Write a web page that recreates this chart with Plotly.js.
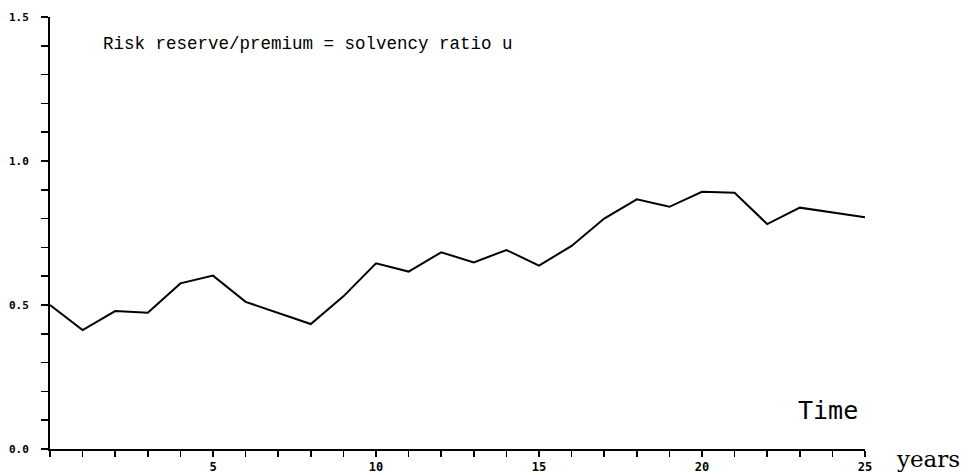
<!DOCTYPE html>
<html>
<head>
<meta charset="utf-8">
<script src="https://cdn.plot.ly/plotly-3.0.1.min.js"></script>
<style>html,body{margin:0;padding:0;background:#fff;}#chart{width:975px;height:475px;}</style>
</head>
<body>
<div id="chart"></div>
<script>
var years = [0,1,2,3,4,5,6,7,8,9,10,11,12,13,14,15,16,17,18,19,20,21,22,23,24,25];
var solvencyRatio = [0.50,0.413,0.479,0.473,0.575,0.602,0.511,0.472,0.434,0.53,0.645,0.616,0.683,0.648,0.691,0.637,0.705,0.80,0.867,0.841,0.893,0.890,0.781,0.838,0.822,0.805];
var xTickVals = [0,1,2,3,4,5,6,7,8,9,10,11,12,13,14,15,16,17,18,19,20,21,22,23,24,25];
var xTickText = ["","","","","","5","","","","","10","","","","","15","","","","","20","","","","","25"];
var yTickVals = [0,0.1,0.2,0.3,0.4,0.5,0.6,0.7,0.8,0.9,1.0,1.1,1.2,1.3,1.4,1.5];
var yTickText = ["0.0","","","","","0.5","","","","","1.0","","","","","1.5"];
var titleText = "Risk reserve/premium = solvency ratio u";
var xLabel = "Time";
var unitLabel = "years";

var trace = {
  x: years, y: solvencyRatio, type: 'scatter', mode: 'lines',
  line: {color: '#000', width: 2}, hoverinfo: 'skip'
};
var layout = {
  width: 975, height: 475,
  margin: {l: 50, r: 110, t: 17, b: 26},
  paper_bgcolor: '#fff', plot_bgcolor: '#fff',
  showlegend: false,
  xaxis: {
    range: [0, 25], showgrid: false, zeroline: false,
    showline: true, linecolor: '#000', linewidth: 2,
    tickmode: 'array', tickvals: xTickVals, ticktext: xTickText,
    ticks: 'outside', ticklen: 6, tickwidth: 1.5, tickcolor: '#000',
    tickfont: {family: 'DejaVu Sans Mono', size: 12, color: '#000', weight: 'bold'},
    ticklabelstandoff: 0
  },
  yaxis: {
    range: [0, 1.5], showgrid: false, zeroline: false,
    showline: true, linecolor: '#000', linewidth: 2,
    tickmode: 'array', tickvals: yTickVals, ticktext: yTickText,
    ticks: 'outside', ticklen: 7, tickwidth: 1.5, tickcolor: '#000',
    tickfont: {family: 'DejaVu Sans Mono', size: 11, color: '#000', weight: 'bold'},
    ticklabelstandoff: 10
  },
  annotations: [
    {text: titleText, xref: 'paper', yref: 'paper', x: 0.063, y: 0.938, xanchor: 'left', yanchor: 'middle',
     showarrow: false, font: {family: 'Liberation Mono', size: 17.5, color: '#000'}},
    {text: xLabel, xref: 'paper', yref: 'paper', x: 0.994, y: 0.088, xanchor: 'right', yanchor: 'middle',
     showarrow: false, font: {family: 'DejaVu Sans Mono', size: 25, color: '#000'}},
    {text: unitLabel, xref: 'paper', yref: 'paper', x: 1.035, y: -0.023, xanchor: 'left', yanchor: 'middle',
     showarrow: false, font: {family: 'DejaVu Serif', size: 23, color: '#000'}}
  ]
};
Plotly.newPlot('chart', [trace], layout, {staticPlot: true, displayModeBar: false});
</script>
</body>
</html>
